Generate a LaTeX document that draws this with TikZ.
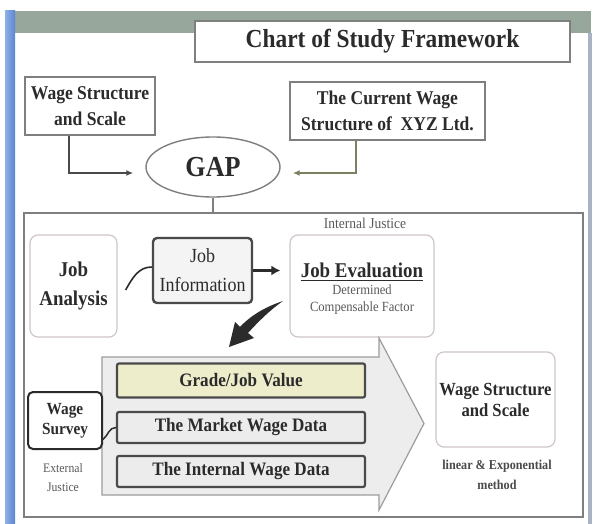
\documentclass[tikz,border=0pt]{standalone}
\usepackage{fontspec}
\setmainfont{Liberation Serif}[FakeStretch=0.9]
\usetikzlibrary{arrows.meta,shapes.geometric}
\definecolor{barc}{HTML}{97A79B}
\definecolor{bluel}{HTML}{8FB0E4}
\definecolor{blued}{HTML}{5A86D2}
\definecolor{rstripe}{HTML}{A8B4C4}
\definecolor{txt}{HTML}{2B2B2B}
\definecolor{boxgray}{HTML}{7F7F7F}
\definecolor{softb}{HTML}{CFC6C6}
\definecolor{darkb}{HTML}{4A4A4A}
\definecolor{barfill}{HTML}{ECECEC}
\definecolor{yelfill}{HTML}{EDEDCB}
\definecolor{arrfill}{HTML}{EDEDED}
\definecolor{arrline}{HTML}{9C9C9C}
\definecolor{greytxt}{HTML}{5A5A5A}
\definecolor{olive}{HTML}{7A8060}
\tikzset{
  topbox/.style={draw=boxgray, line width=1.4pt, fill=white, inner sep=0pt, align=center, text=txt,
    font=\bfseries\fontsize{19.5}{26}\selectfont},
  softbox/.style={draw=softb, line width=1.2pt, rounded corners=8pt, fill=white, inner sep=0pt, align=center, text=txt},
  databar/.style={draw=darkb, line width=2.2pt, rounded corners=2pt, fill=barfill, inner sep=0pt,
    minimum width=248pt, text=txt, font=\bfseries\fontsize{19}{22}\selectfont},
  smalltxt/.style={text=greytxt, align=center, inner sep=0pt},
  garr/.style={line width=1.4pt, -{Latex[length=7pt,width=6pt]}},
  fatarr/.style={line width=2.5pt, draw=txt, -{Latex[length=9pt,width=10pt]}},
}
\begin{document}
\begin{tikzpicture}[x=1pt,y=-1pt]
\useasboundingbox (0,0) rectangle (594,524);
\fill[white] (0,0) rectangle (594,524);
% slide frame
\fill[barc] (5,11) rectangle (591,33);
\shade[left color=bluel, right color=blued] (5,11) rectangle (15,524);
\fill[rstripe] (588,33) rectangle (592,524);
% title
\node[draw=boxgray, line width=1.4pt, fill=white, minimum width=375pt, minimum height=41pt, inner sep=0pt,
  text=txt, font=\bfseries\fontsize{26}{30}\selectfont] (title) at (382.5,41.5) {Chart of Study Framework};
% top boxes
\node[topbox, minimum width=130pt, minimum height=58pt] (wsl) at (90,106) {Wage Structure\\and Scale};
\node[topbox, minimum width=195pt, minimum height=58pt] (cur) at (387.5,111) {The Current Wage\\Structure of~ XYZ Ltd.};
\node[ellipse, draw=boxgray, line width=1.4pt, minimum width=134pt, minimum height=60pt, inner sep=0pt,
  text=txt, font=\bfseries\fontsize{29}{32}\selectfont] (gap) at (213,167) {GAP};
\draw[garr, draw=darkb] ([xshift=-21pt]wsl.south) |- ([xshift=-12pt,yshift=-6pt]gap.west);
\draw[garr, draw=olive] ([xshift=-31.5pt]cur.south) |- ([xshift=12pt,yshift=-6pt]gap.east);
% frame
\node[draw=boxgray, line width=1.3pt, minimum width=559pt, minimum height=304pt, inner sep=0pt] (frame) at (303.5,365) {};
\draw[draw=boxgray, line width=1.3pt] (gap.south) -- (gap.south |- frame.north);
\node[smalltxt, font=\fontsize{15}{17}\selectfont] (ij) at (365,223) {Internal Justice};
% job boxes
\node[softbox, minimum width=87pt, minimum height=102pt, font=\bfseries\fontsize{21}{29}\selectfont] (ja) at (73.5,286) {Job\\Analysis};
\node[draw=darkb, line width=2.4pt, rounded corners=4pt, fill=barfill!60!white, minimum width=99pt, minimum height=65pt,
  inner sep=0pt, align=center, text=txt, font=\fontsize{20}{29}\selectfont] (ji) at (202.5,270.5) {Job\\Information};
\node[softbox, minimum width=144pt, minimum height=102pt] (je) at (362,286) {};
\node[inner sep=0pt, text=txt, font=\bfseries\fontsize{21}{24}\selectfont] (jet) at (362,270) {Job Evaluation};
\draw[txt, line width=1.6pt] ([yshift=-3.5pt]jet.base west) -- ([yshift=-3.5pt]jet.base east);
\node[smalltxt, font=\fontsize{14}{17}\selectfont] (jed) at (362,299.5) {Determined\\Compensable Factor};
\draw[txt, line width=1.6pt] ([xshift=8pt,yshift=-4pt]ja.east) to[out=60,in=180] ([yshift=3.5pt]ji.west);
\draw[fatarr] (ji.east) -- ([xshift=-9pt]je.west |- ji.east);
% swoosh
\fill[txt] (283,301) .. controls (268,306) and (252,314) .. (240,327) -- (235,322) -- (229,347)
  -- (254,338) -- (248,333) .. controls (258,322) and (270,310) .. (283,301) -- cycle;
% big arrow
\draw[draw=arrline, line width=1.2pt, fill=arrfill] (102,357) -- (379,357) -- (379,338) -- (424,423.5)
  -- (379,510) -- (379,495) -- (102,495) -- cycle;
\node[databar, fill=yelfill, minimum height=34pt] (gv) at (241,380.5) {Grade/Job Value};
\node[databar, minimum height=31pt] (mk) at (241,427.5) {The Market Wage Data};
\node[databar, minimum height=31pt] (iw) at (241,471.5) {The Internal Wage Data};
% wage survey
\node[draw=txt, line width=2pt, rounded corners=5pt, fill=white, minimum width=74pt, minimum height=57pt,
  inner sep=0pt, align=center, text=txt, font=\bfseries\fontsize{17}{20}\selectfont] (ws) at (65,420.5) {Wage\\Survey};
\draw[txt, line width=1.5pt] ([yshift=-19pt]ws.east) to[out=40,in=180] (mk.west);
\node[smalltxt, font=\fontsize{13}{19}\selectfont] (ej) at (63,477.5) {External\\Justice};
% right box
\node[softbox, minimum width=119pt, minimum height=95pt, font=\bfseries\fontsize{18.5}{21}\selectfont] (wsr) at (495.5,399.5) {Wage Structure\\and Scale};
\node[smalltxt, text=darkb, font=\bfseries\fontsize{13.5}{20}\selectfont] (lem) at (497,475) {linear \& Exponential\\method};
\end{tikzpicture}
\end{document}
